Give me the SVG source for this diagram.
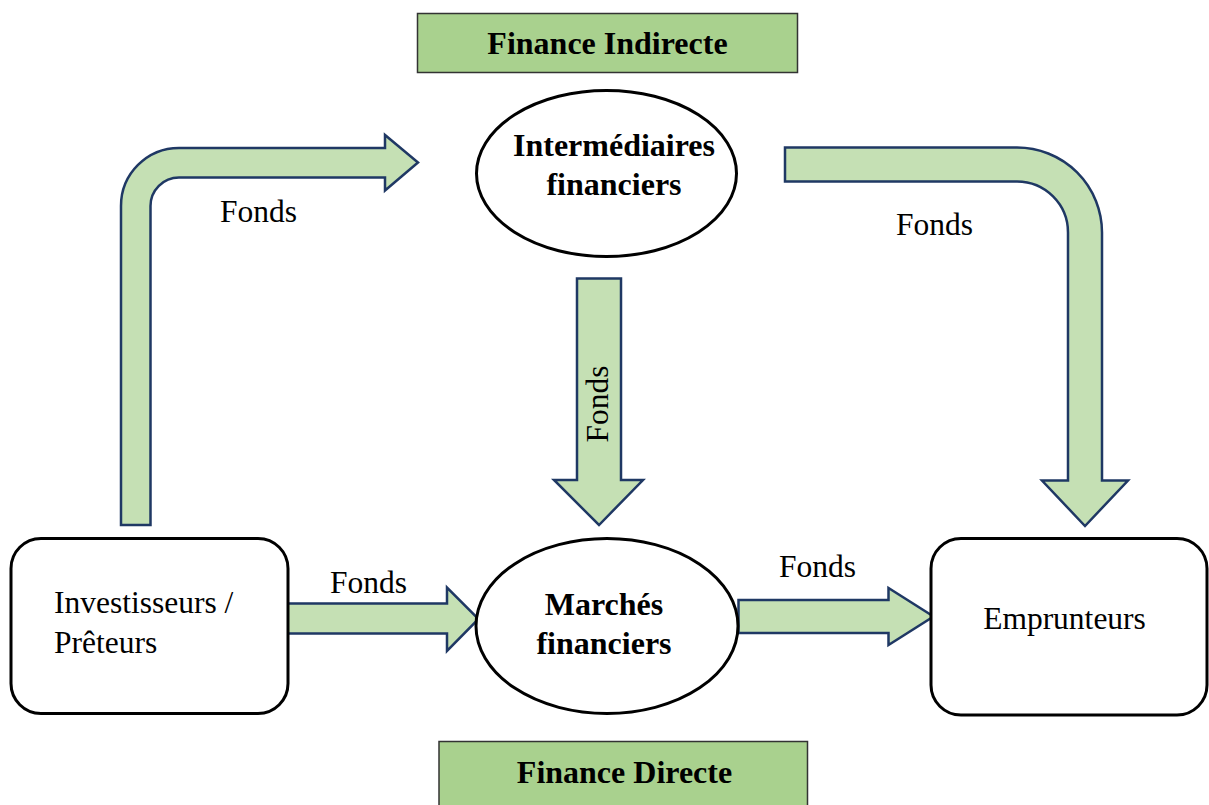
<svg xmlns="http://www.w3.org/2000/svg" width="1209" height="805" viewBox="0 0 1209 805">
<style>
.arrow{fill:#C5E0B4;stroke:#1F3864;stroke-width:2.5;stroke-linejoin:miter}
.node{fill:#FFFFFF;stroke:#000000;stroke-width:3}
.banner{fill:#A9D18E;stroke:#333333;stroke-width:1.5}
.t{font-family:"Liberation Serif","Times New Roman",serif;font-size:31.5px;fill:#000}
.b{font-weight:bold;font-size:32px}
</style>
<rect width="1209" height="805" fill="#FFFFFF"/>
<g id="connectors">
<path class="arrow" d="M121,525 L121,206 A58,58 0 0 1 179,148 L385,148 L385,135 L418,162.5 L385,190.5 L385,177.5 L179,177.5 A28.5,28.5 0 0 0 150.5,206 L150.5,525 Z"/>
<path class="arrow" d="M785,147.5 L1017,147.5 A85,85 0 0 1 1102,232.5 L1102,480.5 L1128,480.5 L1085,526 L1042,480.5 L1068,480.5 L1068,232.5 A51,51 0 0 0 1017,181.5 L785,181.5 Z"/>
<path class="arrow" d="M577,278.5 L621,278.5 L621,480 L643,480 L599,525 L554,480 L577,480 Z"/>
<path class="arrow" d="M287,603.5 L447,603.5 L447,587.5 L478.5,619 L447,651 L447,633.5 L287,633.5 Z"/>
<path class="arrow" d="M738.5,600 L888.5,600 L888.5,588 L933.5,616.5 L888.5,645 L888.5,633 L738.5,633 Z"/>
<text class="t" x="220" y="221.5">Fonds</text>
<text class="t" x="896" y="235">Fonds</text>
<text class="t" text-anchor="middle" transform="translate(608,404) rotate(-90)">Fonds</text>
<text class="t" x="330" y="592.5">Fonds</text>
<text class="t" x="779" y="577">Fonds</text>
</g>
<g id="finance-indirecte">
<rect class="banner" x="417.5" y="13.5" width="380" height="59"/>
<text class="t b" x="607.5" y="54" text-anchor="middle">Finance Indirecte</text>
</g>
<g id="intermediaires">
<ellipse class="node" cx="606.5" cy="173.5" rx="130" ry="83"/>
<text class="t b" x="614" y="156" text-anchor="middle">Intermédiaires</text>
<text class="t b" x="614" y="195" text-anchor="middle">financiers</text>
</g>
<g id="investisseurs">
<rect class="node" x="11" y="538.5" width="277" height="175" rx="30" ry="30"/>
<text class="t" x="54" y="613">Investisseurs /</text>
<text class="t" x="54" y="652.5">Prêteurs</text>
</g>
<g id="marches">
<ellipse class="node" cx="607" cy="626" rx="131" ry="87.5"/>
<text class="t b" x="604" y="615" text-anchor="middle">Marchés</text>
<text class="t b" x="604" y="653.5" text-anchor="middle">financiers</text>
</g>
<g id="emprunteurs">
<rect class="node" x="931" y="538.5" width="276" height="176.5" rx="30" ry="30"/>
<text class="t" x="1064.5" y="629" text-anchor="middle">Emprunteurs</text>
</g>
<g id="finance-directe">
<rect class="banner" x="439" y="741.5" width="368.5" height="70"/>
<text class="t b" x="624.5" y="782.5" text-anchor="middle">Finance Directe</text>
</g>
</svg>
